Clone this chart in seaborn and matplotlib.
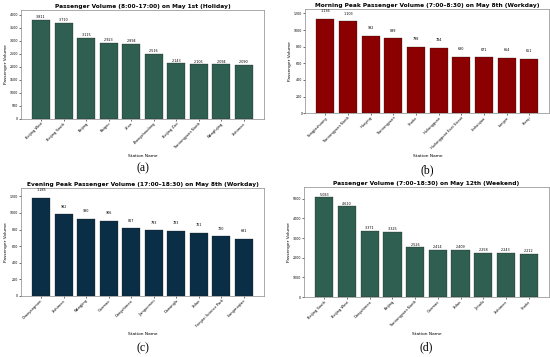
import pandas as pd
import seaborn as sns
import matplotlib.pyplot as plt

# Panel (a): holiday
stations_a = ['Beijing West', 'Beijing South', 'Beijing', 'Baigou', "Xi'an", 'Zhengzhoudong',
              'Beijing Zoo', 'Tiantongyuan North', 'Wangfujing', 'Xizhimen']
volume_a = [3811, 3710, 3115, 2923, 2894, 2516, 2143, 2105, 2094, 2090]

# Panel (b): morning peak
stations_b = ['Songjiazhuang', 'Tiantongyuan North', 'Huoying', 'Tiantongyuan', 'Shahe',
              'Huilongguan', 'Huilongguan East Street', 'Lishuiqiao', 'Longze', 'Xierqi']
volume_b = [1136, 1103, 932, 899, 798, 784, 680, 671, 664, 651]

# Panel (c): evening peak
stations_c = ['Chaoyangmen', 'Xizhimen', 'Wangjing', 'Guomao', 'Dongzhimen', 'Jianguomen',
              'Dawanglu', 'Xidan', 'Fengtai Science Park', 'Liangmaqiao']
volume_c = [1185, 982, 930, 906, 817, 793, 783, 761, 720, 691]

# Panel (d): weekend
stations_d = ['Beijing South', 'Beijing West', 'Dongzhimen', 'Beijing', 'Tiantongyuan North',
              'Guomao', 'Xidan', 'Jintailu', 'Xizhimen', 'Shahe']
volume_d = [5083, 4610, 3371, 3325, 2526, 2414, 2409, 2258, 2243, 2212]

titles = ['Passenger Volume (8:00–17:00) on May 1st (Holiday)',
          'Morning Peak Passenger Volume (7:00–8:30) on May 8th (Workday)',
          'Evening Peak Passenger Volume (17:00–18:30) on May 8th (Workday)',
          'Passenger Volume (7:00–18:30) on May 12th (Weekend)']
captions = ['(a)', '(b)', '(c)', '(d)']
colors = ['#2f5f50', '#8b0000', '#0a2e45', '#2f5f50']

panels = [(stations_a, volume_a), (stations_b, volume_b),
          (stations_c, volume_c), (stations_d, volume_d)]

# axes boxes [left, bottom, width, height] in figure fraction
boxes = [[0.038, 0.667, 0.442, 0.305],
         [0.555, 0.683, 0.444, 0.291],
         [0.038, 0.171, 0.442, 0.303],
         [0.553, 0.168, 0.445, 0.308]]
label_pad = [0.4, 4, 4, 0.4]
caption_y = [0.529, 0.524, 0.025, 0.028]

fig = plt.figure(figsize=(5.5, 3.57), dpi=100)

for i, (names, vals) in enumerate(panels):
    ax = fig.add_axes(boxes[i])
    df = pd.DataFrame({'Station Name': names, 'Passenger Volume': vals})
    sns.barplot(data=df, x='Station Name', y='Passenger Volume', color=colors[i],
                saturation=1, width=0.8, edgecolor='#1a1a1a', linewidth=0.2, ax=ax)
    # matplotlib-style 5% x margins around the bars
    ax.set_xlim(-0.4 - 0.49, len(names) - 0.6 + 0.49)
    ax.set_ylim(0, max(vals) * 1.1)
    ax.set_title(titles[i], fontsize=4.2, fontweight='bold', pad=1.5)
    ax.set_xlabel('Station Name', fontsize=3.2, labelpad=3)
    ax.set_ylabel('Passenger Volume', fontsize=3.2, labelpad=1.5)
    ax.tick_params(labelsize=2.3, length=1.2, width=0.4, pad=0.8)
    ax.tick_params(axis='x', labelsize=2.6)
    plt.setp(ax.get_xticklabels(), rotation=45, ha='right', rotation_mode='anchor')
    for s in ax.spines.values():
        s.set_linewidth(0.5)
        s.set_color('#888888')
    ax.bar_label(ax.containers[0], labels=[f'{v:,}' for v in vals],
                 fontsize=2.4, padding=label_pad[i])
    x_mid = boxes[i][0] + boxes[i][2] / 2
    fig.text(x_mid, caption_y[i], captions[i], ha='center', va='center',
             fontsize=8.5, family='Liberation Serif')

fig.savefig('out.png', dpi=100)
